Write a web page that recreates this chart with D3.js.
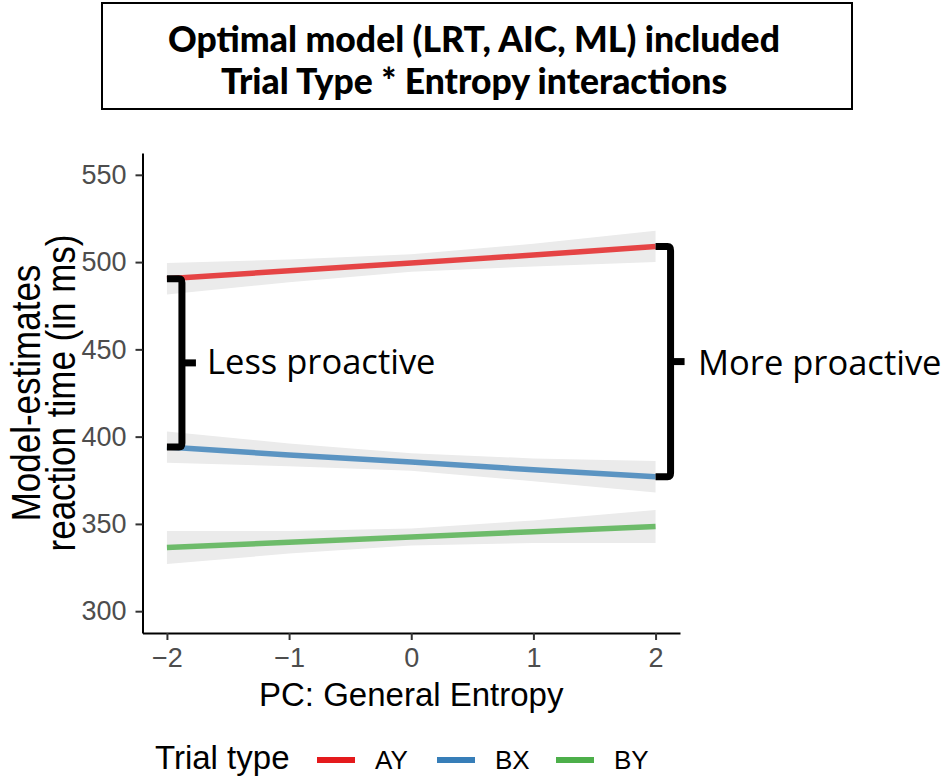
<!DOCTYPE html>
<html>
<head>
<meta charset="utf-8">
<script src="https://cdn.jsdelivr.net/npm/d3@7"></script>
<style>
  html, body { margin: 0; padding: 0; background: #fff; }
  svg { display: block; }
</style>
</head>
<body>
<svg id="chart" width="952" height="779"></svg>
<script>
// ---- data ----
const xValues = [-2, -1, 0, 1, 2];
const xTicks = [-2, -1, 0, 1, 2];
const yTicks = [300, 350, 400, 450, 500, 550];
const seriesNames = ["AY", "BX", "BY"];
const seriesColors = ["#E41A1C", "#377EB8", "#4DAF4A"];
const ayFit = [490.5, 495, 499.5, 504, 509];
const ayLower = [481.5, 488.5, 494.5, 497.5, 500];
const ayUpper = [499.5, 501.5, 504.5, 510.5, 518];
const bxFit = [394, 389.5, 385.5, 381, 377];
const bxLower = [385, 383, 380.5, 374.5, 368];
const bxUpper = [403, 396, 390.5, 387.5, 386];
const byFit = [336.5, 339.5, 342.5, 345.5, 348.5];
const byLower = [327, 333, 337.7, 339, 339];
const byUpper = [346, 346, 347.3, 352, 358];
const titleLines = ["Optimal model (LRT, AIC, ML) included", "Trial Type * Entropy interactions"];
const xTitle = "PC: General Entropy";
const yTitleLines = ["Model-estimates", "reaction time (in ms)"];
const legendTitle = "Trial type";
const leftNote = "Less proactive";
const rightNote = "More proactive";

const series = seriesNames.map((name, i) => ({
  name, color: seriesColors[i],
  fit: [ayFit, bxFit, byFit][i],
  lower: [ayLower, bxLower, byLower][i],
  upper: [ayUpper, bxUpper, byUpper][i]
}));

const svg = d3.select("#chart");
const sans = "'Liberation Sans', Arial, Helvetica, sans-serif";
const calib = "'Open Sans', 'Noto Sans', sans-serif";

const x = d3.scaleLinear().domain([-2.2, 2.2]).range([142.5, 680]);
const y = d3.scaleLinear().domain([287.5, 562.5]).range([633, 153]);

// ---- title box ----
svg.append("rect").attr("x", 102).attr("y", 3).attr("width", 750).attr("height", 106)
  .attr("fill", "#fff").attr("stroke", "#000").attr("stroke-width", 2);
svg.selectAll("text.title").data(titleLines).join("text").attr("class", "title")
  .attr("x", 474).attr("y", (d, i) => 52 + i * 42)
  .attr("text-anchor", "middle")
  .style("font-family", "Lato, sans-serif").style("font-weight", "900").style("font-size", "35.5px")
  .text(d => d);

// ---- bands ----
const area = d3.area().x((d) => x(d.x)).y0(d => y(d.lo)).y1(d => y(d.hi));
const line = d3.line().x(d => x(d.x)).y(d => y(d.v));
const plot = svg.append("g");
series.forEach(s => {
  const pts = xValues.map((xv, j) => ({x: xv, lo: s.lower[j], hi: s.upper[j], v: s.fit[j]}));
  plot.append("path").datum(pts).attr("d", area).attr("fill", "#ebebeb");
});
series.forEach(s => {
  const pts = xValues.map((xv, j) => ({x: xv, v: s.fit[j]}));
  plot.append("path").datum(pts).attr("d", line).attr("fill", "none")
    .attr("stroke", s.color).attr("stroke-opacity", 0.8).attr("stroke-width", 5.5);
});

// ---- axes ----
const yAxis = svg.append("g").attr("transform", `translate(${x.range()[0]},0)`)
  .call(d3.axisLeft(y).tickValues(yTicks).tickSize(7).tickSizeOuter(0).tickPadding(9));
const xAxis = svg.append("g").attr("transform", `translate(0,${y.range()[0]})`)
  .call(d3.axisBottom(x).tickValues(xTicks).tickSize(7).tickSizeOuter(0).tickPadding(8)
    .tickFormat(d => d < 0 ? "\u2212" + Math.abs(d) : d));
[yAxis, xAxis].forEach(a => {
  a.select(".domain").attr("stroke", "#000").attr("stroke-width", 2);
  a.selectAll(".tick line").attr("stroke", "#333").attr("stroke-width", 2);
  a.selectAll(".tick text").attr("fill", "#4d4d4d").style("font-family", sans).style("font-size", "27px");
});

// ---- axis titles ----
svg.append("text").attr("x", (x.range()[0] + x.range()[1]) / 2).attr("y", 706)
  .attr("text-anchor", "middle").style("font-family", sans).style("font-size", "33px").text(xTitle);
const yMid = (y.range()[0] + y.range()[1]) / 2;
svg.selectAll("text.ytitle").data(yTitleLines).join("text").attr("class", "ytitle")
  .attr("transform", (d, i) => `translate(${40 + i * 35},${yMid}) rotate(-90) scale(1,1.15)`)
  .attr("text-anchor", "middle").style("font-family", sans).style("font-size", "35px").text(d => d);

// ---- brackets ----
function bracket(xv, yTop, yBot) {
  const x0 = x(xv), xv2 = x0 + 15, xm = xv2 + 14;
  const g = svg.append("g").attr("fill", "none").attr("stroke", "#000").attr("stroke-width", 7);
  g.append("path").attr("d", `M${x0},${y(yTop)} L${xv2 - 3},${y(yTop)} Q${xv2},${y(yTop)} ${xv2},${y(yTop) + 4} L${xv2},${y(yBot) - 4} Q${xv2},${y(yBot)} ${xv2 - 3},${y(yBot)} L${x0},${y(yBot)}`);
  const ym = (y(yTop) + y(yBot)) / 2;
  g.append("path").attr("d", `M${xv2},${ym} L${xm},${ym}`);
}
bracket(-2, ayFit[0], bxFit[0]);
bracket(2, ayFit[4], bxFit[4]);
svg.append("text").attr("x", 207).attr("y", 374).style("font-family", calib).style("font-size", "34.5px").text(leftNote);
svg.append("text").attr("x", 698).attr("y", 375).style("font-family", calib).style("font-size", "34.5px").text(rightNote);

// ---- legend ----
const leg = svg.append("g");
leg.append("text").attr("x", 155).attr("y", 769).style("font-family", sans).style("font-size", "33px").text(legendTitle);
const keyX = [317, 437, 556];
series.forEach((s, i) => {
  leg.append("line").attr("x1", keyX[i]).attr("x2", keyX[i] + 38).attr("y1", 760).attr("y2", 760)
    .attr("stroke", s.color).attr("stroke-width", 6);
  leg.append("text").attr("x", keyX[i] + 58).attr("y", 769).style("font-family", sans).style("font-size", "26px").text(s.name);
});
</script>
</body>
</html>
